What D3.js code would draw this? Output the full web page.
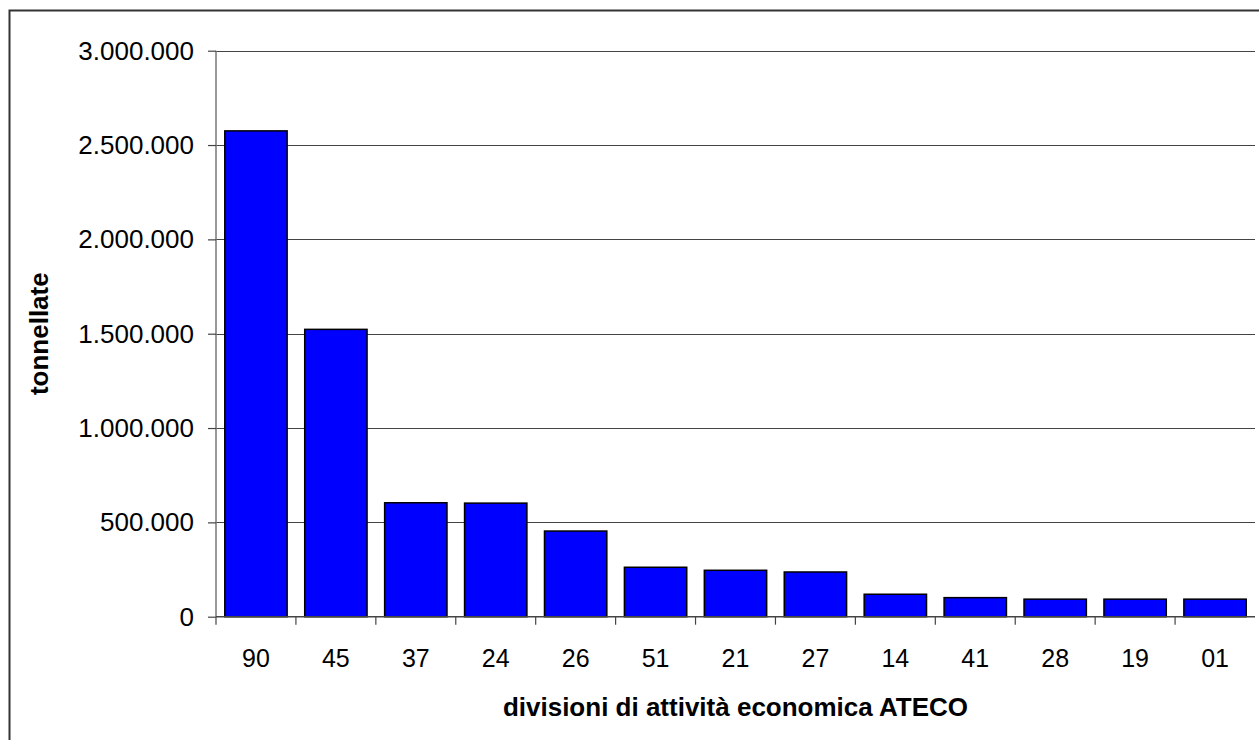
<!DOCTYPE html>
<html>
<head>
<meta charset="utf-8">
<script src="https://cdn.jsdelivr.net/npm/d3@7"></script>
<style>
  html, body { margin: 0; padding: 0; background: #fff; }
  svg { display: block; }
  text { font-family: "Liberation Sans", Arial, sans-serif; fill: #000; }
</style>
</head>
<body>
<svg id="chart" width="1259" height="740"></svg>
<script>
const categories = ["90", "45", "37", "24", "26", "51", "21", "27", "14", "41", "28", "19", "01"];
const values = [2575000, 1523000, 604000, 602000, 454000, 262000, 246000, 237000, 119000, 101000, 93000, 93000, 93000];
const yTicks = [0, 500000, 1000000, 1500000, 2000000, 2500000, 3000000];
const yTitle = "tonnellate";
const xTitle = "divisioni di attività economica ATECO";

const svg = d3.select("#chart");
const m = { left: 216, right: 1255, top: 50.7, bottom: 616.7 };

// outer frame
svg.append("rect").attr("x", 9.5).attr("y", 10.5).attr("width", 1270).attr("height", 760)
  .attr("fill", "#fff").attr("stroke", "#333").attr("stroke-width", 2);

const x = d3.scaleBand().domain(categories).range([m.left, m.right]).paddingInner(0.22).paddingOuter(0.11);
const y = d3.scaleLinear().domain([0, 3000000]).range([m.bottom, m.top]);

const fmt = v => d3.format(",")(v).replace(/,/g, ".");

// gridlines
svg.append("g").selectAll("line").data(yTicks.filter(d => d > 0)).join("line")
  .attr("x1", m.left).attr("x2", m.right)
  .attr("y1", d => Math.round(y(d)) + 0.5).attr("y2", d => Math.round(y(d)) + 0.5)
  .attr("stroke", "#444").attr("stroke-width", 1.2);

// bars
svg.append("g").selectAll("rect").data(values).join("rect")
  .attr("x", (d, i) => x(categories[i]))
  .attr("width", x.bandwidth())
  .attr("y", d => y(d))
  .attr("height", d => y(0) - y(d))
  .attr("fill", "#0000FF").attr("stroke", "#000").attr("stroke-width", 1.5);

// y axis
const yAxis = d3.axisLeft(y).tickValues(yTicks).tickFormat(fmt).tickSize(8).tickPadding(14);
const gy = svg.append("g").attr("transform", `translate(${m.left},0)`).call(yAxis);
gy.select(".domain").attr("stroke", "#777").attr("stroke-width", 1.5).attr("d", `M0,${m.top}V${m.bottom}`);
gy.selectAll(".tick line").attr("stroke", "#444").attr("stroke-width", 1.2);
gy.selectAll(".tick text").style("font-size", "26px").attr("font-family", "Liberation Sans, Arial, sans-serif").attr("fill", "#000");

// x axis line and ticks at band boundaries
const bounds = d3.range(categories.length + 1).map(i => m.left + i * (m.right - m.left) / categories.length);
svg.append("line").attr("x1", m.left).attr("x2", m.right).attr("y1", y(0)).attr("y2", y(0))
  .attr("stroke", "#444").attr("stroke-width", 1.5);
svg.append("g").selectAll("line").data(bounds.slice(0, -1)).join("line")
  .attr("x1", d => d).attr("x2", d => d).attr("y1", y(0)).attr("y2", y(0) + 8)
  .attr("stroke", "#444").attr("stroke-width", 1.2);
svg.append("g").selectAll("text").data(categories).join("text")
  .attr("x", d => x(d) + x.bandwidth() / 2).attr("y", 667)
  .attr("text-anchor", "middle").style("font-size", "25px").text(d => d);

// titles
svg.append("text").attr("transform", `translate(48,${(m.top + m.bottom) / 2}) rotate(-90)`)
  .attr("text-anchor", "middle").style("font-size", "26px").style("font-weight", "bold").text(yTitle);
svg.append("text").attr("x", (m.left + m.right) / 2).attr("y", 716)
  .attr("text-anchor", "middle").style("font-size", "26px").style("font-weight", "bold").text(xTitle);
</script>
</body>
</html>
